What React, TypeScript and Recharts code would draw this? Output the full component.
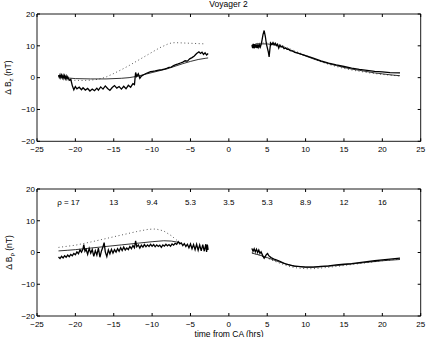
import React from 'react';
import { ComposedChart, Line, XAxis, YAxis, Scatter } from 'recharts';

type P = [number, number];

const xTicks = [-25, -20, -15, -10, -5, 0, 5, 10, 15, 20, 25];
const yTicks = [-20, -10, 0, 10, 20];

// ---- Delta B_z (top panel) ----
const bzObsIn: P[] = [
  [-22.2, 0.8], [-22.1, 0.1], [-22.0, 0.9], [-21.9, 0.0], [-21.8, 0.8], [-21.7, -0.1], [-21.6, 0.7], [-21.5, -0.2],
  [-21.4, 0.6], [-21.3, -0.3], [-21.2, 0.5], [-21.1, -0.4], [-21.0, 0.3], [-20.8, -0.8], [-20.6, -0.5], [-20.4, -2.5],
  [-20.2, -3.8], [-20.0, -2.8], [-19.8, -3.5], [-19.5, -3.0], [-19.2, -3.8], [-19.0, -3.2], [-18.7, -3.9], [-18.4, -3.4],
  [-18.1, -4.2], [-17.8, -3.6], [-17.5, -4.1], [-17.2, -3.3], [-17.0, -3.9], [-16.7, -2.9], [-16.4, -3.6], [-16.1, -2.6],
  [-15.8, -3.4], [-15.5, -4.0], [-15.2, -3.1], [-14.9, -2.5], [-14.6, -3.3], [-14.3, -2.8], [-14.0, -3.6], [-13.7, -2.7],
  [-13.4, -3.5], [-13.1, -2.4], [-12.8, -3.0], [-12.5, -1.9], [-12.3, -2.2], [-12.15, 1.6], [-12.0, 0.4], [-11.8, 1.2],
  [-11.6, -0.2], [-11.4, 0.5], [-11.1, 0.9], [-10.8, 1.3], [-10.5, 1.6], [-10.2, 1.9], [-9.9, 2.0], [-9.6, 2.1],
  [-9.3, 2.3], [-9.0, 2.4], [-8.7, 2.5], [-8.4, 2.7], [-8.1, 2.9], [-7.8, 3.2], [-7.5, 3.3], [-7.2, 3.8],
  [-6.9, 4.1], [-6.6, 4.3], [-6.3, 4.6], [-6.0, 4.9], [-5.7, 5.3], [-5.4, 5.2], [-5.1, 5.9], [-4.8, 6.3],
  [-4.5, 6.8], [-4.2, 7.6], [-3.9, 8.1], [-3.7, 7.6], [-3.5, 8.0], [-3.3, 7.3], [-3.1, 7.8], [-2.9, 7.1], [-2.7, 7.6],
];
const bzModelIn: P[] = [
  [-22.2, 0.4], [-21.5, 0.1], [-21, -0.1], [-20, -0.3], [-18, -0.4], [-16, -0.4], [-14, -0.2], [-13, 0],
  [-12, 0.4], [-11, 1.0], [-10, 1.6], [-9, 2.2], [-8, 2.8], [-7, 3.6], [-6, 4.4], [-5, 5.1], [-4, 5.7], [-3, 6.1], [-2.7, 6.2],
];
const bzAltIn: P[] = [
  [-20.6, -0.8], [-19, -0.9], [-18, -0.8], [-17, -0.5], [-16, 0.2], [-15, 1.3], [-14, 2.5], [-13, 3.8], [-12, 5.2],
  [-11, 6.6], [-10, 8.0], [-9, 9.4], [-8, 10.5], [-7.5, 10.9], [-7, 11.0], [-6, 10.9], [-5, 10.8], [-4, 10.7], [-3, 10.6],
];
const bzObsOut: P[] = [
  [3.0, 10.2], [3.1, 9.3], [3.2, 10.6], [3.3, 9.2], [3.4, 10.5], [3.5, 9.4], [3.6, 10.4], [3.7, 9.3], [3.8, 10.3],
  [3.9, 9.5], [4.0, 10.2], [4.1, 9.6], [4.2, 10.4], [4.3, 11.5], [4.45, 13.5], [4.6, 14.8], [4.75, 13.0], [4.9, 10.5],
  [5.0, 9.5], [5.15, 8.0], [5.25, 6.5], [5.35, 9.0], [5.45, 10.9], [5.6, 10.4], [5.75, 11.0], [5.9, 10.3], [6.05, 10.8],
  [6.2, 10.1], [6.35, 10.5], [6.5, 9.3], [6.65, 10.2], [6.8, 9.7], [7.0, 9.9], [7.2, 9.1], [7.4, 9.4], [7.6, 8.9],
  [7.8, 9.0], [8.0, 8.5], [8.3, 8.4], [8.6, 7.9], [9.0, 7.7], [9.5, 7.3], [10, 6.9], [11, 6.1], [12, 5.3], [13, 4.6],
  [14, 4.0], [15, 3.5], [16, 3.0], [17, 2.6], [18, 2.3], [19, 2.0], [20, 1.8], [21, 1.6], [22.3, 1.5],
];
const bzModelOut: P[] = [
  [3.5, 10.6], [5, 10.6], [6, 10.3], [7, 9.5], [8, 8.6], [9, 7.7], [10, 6.8], [11, 5.9], [12, 5.1], [13, 4.4],
  [14, 3.8], [15, 3.2], [16, 2.7], [17, 2.3], [18, 1.9], [19, 1.5], [20, 1.2], [21, 0.9], [22.3, 0.6],
];
const bzAltOut: P[] = [
  [3, 10.4], [4, 10.8], [5, 11.0], [6, 10.8], [7, 10.0], [8, 9.0], [9, 8.0], [10, 7.0], [11, 6.0], [12, 5.0],
  [13, 4.2], [14, 3.5], [15, 2.9], [16, 2.4], [17, 2.0], [18, 1.6], [19, 1.3], [20, 1.0], [21, 0.8], [22.3, 0.5],
];

// ---- Delta B_rho (bottom panel) ----
const brObsIn: P[] = [
  [-22.2, -1.4], [-22.0, -1.9], [-21.8, -1.2], [-21.6, -1.7], [-21.4, -1.0], [-21.2, -1.5], [-21.0, -0.8], [-20.8, -1.3],
  [-20.6, -0.6], [-20.4, -1.0], [-20.2, -0.3], [-20.0, -0.7], [-19.8, 0.2], [-19.6, -0.4], [-19.4, 0.8], [-19.2, 0.1],
  [-19.0, 1.2], [-18.9, 2.5], [-18.75, 0.4], [-18.6, 1.0], [-18.4, -0.6], [-18.2, 1.3], [-18.0, -0.2], [-17.8, 0.9],
  [-17.6, -1.2], [-17.4, 0.6], [-17.2, -0.8], [-17.0, 1.4], [-16.8, -1.5], [-16.6, 0.5], [-16.4, 1.8], [-16.25, 3.1],
  [-16.1, 0.2], [-15.9, -1.3], [-15.7, 0.8], [-15.5, -0.4], [-15.3, 1.0], [-15.1, -0.2], [-14.9, 0.9], [-14.7, 0.1],
  [-14.5, 1.2], [-14.3, 0.4], [-14.1, 1.5], [-13.9, 0.6], [-13.7, 1.7], [-13.5, 0.8], [-13.3, 1.4], [-13.1, 0.9],
  [-12.9, 1.9], [-12.7, 1.2], [-12.5, 2.2], [-12.3, 1.5], [-12.15, 3.7], [-12.0, 1.8], [-11.8, 2.4], [-11.6, 1.4],
  [-11.4, 2.3], [-11.2, 1.7], [-11.0, 2.5], [-10.8, 1.8], [-10.6, 2.4], [-10.4, 1.9], [-10.2, 2.6], [-10.0, 2.0],
  [-9.8, 2.5], [-9.6, 1.8], [-9.4, 2.4], [-9.2, 1.9], [-9.0, 2.3], [-8.8, 1.6], [-8.6, 2.4], [-8.4, 2.0],
  [-8.2, 2.6], [-8.0, 2.1], [-7.8, 2.5], [-7.6, 2.0], [-7.4, 2.7], [-7.2, 2.3], [-7.0, 2.9], [-6.8, 2.6],
  [-6.6, 3.4], [-6.4, 2.7], [-6.2, 3.0], [-6.0, 2.2], [-5.8, 2.8], [-5.6, 1.9], [-5.4, 2.6], [-5.2, 1.5],
  [-5.0, 2.7], [-4.8, 1.2], [-4.6, 2.5], [-4.4, 0.9], [-4.2, 2.6], [-4.0, 0.7], [-3.8, 2.4], [-3.6, 0.5],
  [-3.4, 2.5], [-3.2, 0.4], [-3.0, 2.6], [-2.9, 0.2], [-2.8, 2.5], [-2.7, 0.8],
];
const brModelIn: P[] = [
  [-22.2, 0.5], [-21, 0.7], [-20, 0.9], [-18, 1.4], [-16, 1.9], [-14, 2.4], [-12, 2.9], [-10, 3.4],
  [-8.5, 3.7], [-7.5, 3.6], [-6.8, 3.3], [-6.3, 3.0],
];
const brAltIn: P[] = [
  [-22.2, 1.6], [-20, 2.3], [-18, 3.3], [-16, 4.4], [-14, 5.5], [-12, 6.6], [-10.5, 7.3], [-9.5, 7.4],
  [-8.5, 6.8], [-7.5, 5.3], [-6.8, 3.9], [-6.2, 2.8],
];
const brObsOut: P[] = [
  [3.0, 1.3], [3.15, 0.4], [3.3, 1.2], [3.45, 0.2], [3.6, 1.0], [3.75, 0.0], [3.9, 0.8], [4.05, -0.3], [4.2, 0.2],
  [4.4, -0.9], [4.6, -1.8], [4.75, -1.2], [4.9, -0.6], [5.05, -0.3], [5.2, -1.0], [5.5, -1.6], [6, -2.2], [6.5, -2.6],
  [7, -3.2], [7.5, -3.7], [8, -4.0], [8.5, -4.3], [9, -4.4], [10, -4.6], [11, -4.6], [12, -4.4], [13, -4.2],
  [14, -3.9], [15, -3.7], [16, -3.5], [17, -3.2], [18, -2.9], [19, -2.6], [20, -2.3], [21, -2.1], [22.3, -1.8],
];
const brModelOut: P[] = [
  [3.0, -0.2], [4, -0.8], [5, -1.6], [6, -2.5], [7, -3.3], [8, -4.0], [9, -4.4], [10, -4.6], [11, -4.6],
  [12, -4.5], [14, -4.1], [16, -3.6], [18, -3.1], [20, -2.6], [22.3, -2.2],
];
const brAltOut: P[] = [
  [3, 0.0], [5, -1.8], [6, -2.8], [7, -3.7], [8, -4.5], [9, -4.9], [10, -5.1], [11, -5.1], [12, -4.9],
  [14, -4.4], [16, -3.8], [18, -3.2], [20, -2.6], [22.3, -2.0],
];

// ---- rho annotations ----
const rhoTimes = [-20.9, -15, -10, -5, 0, 5, 10, 15, 20];
const rhoLabels = ['\u03c1 = 17', '13', '9.4', '5.3', '3.5', '5.3', '8.9', '12', '16'];
const rhoLevel = 15;

const FONT = "'Liberation Sans', Arial, Helvetica, sans-serif";
const toRows = (a: P[]) => a.map(([x, y]) => ({ x, y }));
const fmt = (v: number) => (v < 0 ? '\u2212' + Math.abs(v) : String(v));
const blank = () => '';
const tickStyle = { fontSize: 8, fill: '#000', fontFamily: FONT };

type Series = { data: P[]; kind: 'obs' | 'model' | 'alt' };

const styleFor = (k: Series['kind']) =>
  k === 'obs'
    ? { stroke: '#000', strokeWidth: 1.3 }
    : k === 'model'
    ? { stroke: '#000', strokeWidth: 0.8 }
    : { stroke: '#444', strokeWidth: 0.9, strokeDasharray: '1 2.6' };

function Panel({ top, height, margin, series, rho }: { top: number; height: number; margin: any; series: Series[]; rho?: boolean }) {
  const rhoData = rhoTimes.map((x, i) => ({ x, y: rhoLevel, label: rhoLabels[i] }));
  return (
    <div style={{ position: 'absolute', left: 0, top, width: 427, height }}>
      <ComposedChart width={427} height={height} margin={margin}>
        <XAxis xAxisId="b" type="number" dataKey="x" domain={[-25, 25]} ticks={xTicks} allowDataOverflow interval={0}
          orientation="bottom" height={20} tickSize={-3} tickMargin={8.5} tick={tickStyle} tickFormatter={fmt}
          stroke="#000" axisLine={{ stroke: '#000', strokeWidth: 0.9 }} tickLine={{ stroke: '#000' }} />
        <XAxis xAxisId="t" type="number" dataKey="x" domain={[-25, 25]} ticks={xTicks} allowDataOverflow interval={0}
          orientation="top" height={1} tickSize={-3} tickMargin={2} tick={tickStyle} tickFormatter={blank}
          stroke="#000" axisLine={{ stroke: '#000', strokeWidth: 0.9 }} tickLine={{ stroke: '#000' }} />
        <YAxis yAxisId="l" type="number" domain={[-20, 20]} ticks={yTicks} allowDataOverflow interval={0}
          orientation="left" width={37} tickSize={-3} tickMargin={5} tick={tickStyle} tickFormatter={fmt}
          stroke="#000" axisLine={{ stroke: '#000', strokeWidth: 0.9 }} tickLine={{ stroke: '#000' }} />
        <YAxis yAxisId="r" type="number" domain={[-20, 20]} ticks={yTicks} allowDataOverflow interval={0}
          orientation="right" width={1} tickSize={-3} tickMargin={2} tick={tickStyle} tickFormatter={blank}
          stroke="#000" axisLine={{ stroke: '#000', strokeWidth: 0.9 }} tickLine={{ stroke: '#000' }} />
        {series.map((s, i) => (
          <Line key={i} xAxisId="b" yAxisId="l" data={toRows(s.data)} dataKey="y" type="linear" dot={false}
            activeDot={false} isAnimationActive={false} fill="none" {...styleFor(s.kind)} />
        ))}
        {rho && (
          <Scatter xAxisId="b" yAxisId="l" data={rhoData} dataKey="y" isAnimationActive={false}
            shape={(p: any) => (
              <text x={p.cx} y={p.cy} textAnchor="middle" fontSize={8} fontFamily={FONT} fill="#000">
                {p.payload.label}
              </text>
            )} />
        )}
      </ComposedChart>
    </div>
  );
}

export default function App() {
  const topSeries: Series[] = [
    { data: bzAltIn, kind: 'alt' }, { data: bzAltOut, kind: 'alt' },
    { data: bzModelIn, kind: 'model' }, { data: bzModelOut, kind: 'model' },
    { data: bzObsIn, kind: 'obs' }, { data: bzObsOut, kind: 'obs' },
  ];
  const botSeries: Series[] = [
    { data: brAltIn, kind: 'alt' }, { data: brAltOut, kind: 'alt' },
    { data: brModelIn, kind: 'model' }, { data: brModelOut, kind: 'model' },
    { data: brObsIn, kind: 'obs' }, { data: brObsOut, kind: 'obs' },
  ];
  return (
    <div style={{ position: 'absolute', left: 0, top: 0, width: 427, height: 337, background: '#fff', overflow: 'hidden' }}>
      <Panel top={0} height={170} margin={{ top: 13, right: 5.3, bottom: 8.7, left: 0 }} series={topSeries} />
      <Panel top={170} height={167} margin={{ top: 18, right: 5.3, bottom: 1, left: 0 }} series={botSeries} rho />
      <svg width={427} height={337} style={{ position: 'absolute', left: 0, top: 0, pointerEvents: 'none' }}>
        <text x={228.5} y={7} textAnchor="middle" fontSize={8.5} fontFamily={FONT} fill="#000">Voyager 2</text>
        <text x={229} y={336.5} textAnchor="middle" fontSize={8.5} fontFamily={FONT} fill="#000">time from CA (hrs)</text>
        <text x={11.5} y={77.6} transform="rotate(-90, 11.5, 77.6)" textAnchor="middle" fontSize={8.5} fontFamily={FONT} fill="#000">
          {'\u0394 B'}<tspan fontSize={6} dy={2}>z</tspan><tspan dy={-2}>{' (nT)'}</tspan>
        </text>
        <text x={11.5} y={252.5} transform="rotate(-90, 11.5, 252.5)" textAnchor="middle" fontSize={8.5} fontFamily={FONT} fill="#000">
          {'\u0394 B'}<tspan fontSize={6} dy={2}>{'\u03c1'}</tspan><tspan dy={-2}>{' (nT)'}</tspan>
        </text>
      </svg>
    </div>
  );
}
